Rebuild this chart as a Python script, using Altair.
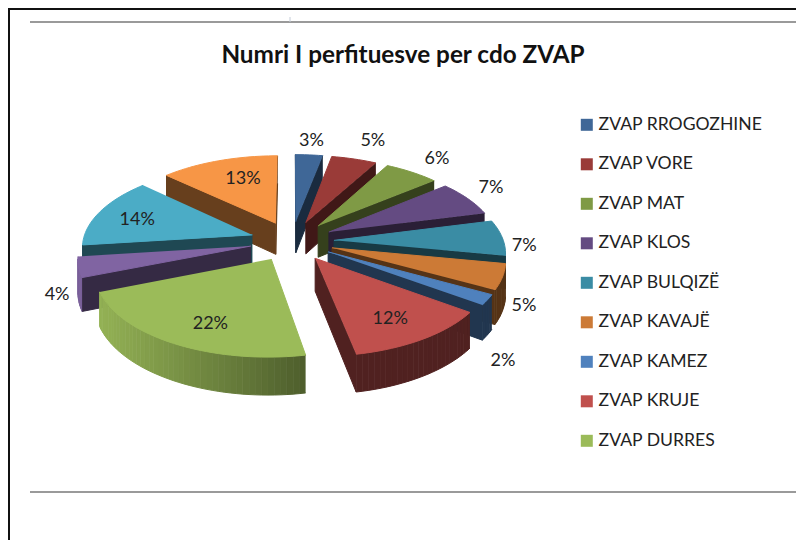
import math
import altair as alt
import pandas as pd

title_text = "Numri I perfituesve per cdo ZVAP"
legend_names = ["ZVAP RROGOZHINE", "ZVAP  VORE", "ZVAP MAT", "ZVAP KLOS", "ZVAP BULQIZË",
                "ZVAP KAVAJË", "ZVAP KAMEZ", "ZVAP KRUJE", "ZVAP DURRES"]
shares = [3, 5, 6, 7, 7, 5, 2, 12, 22, 4, 14, 13]
top_colors = ["#3F6797", "#9A3B38", "#7F9A45", "#644B82", "#3A8CA4", "#CC7A36",
              "#4F81BD", "#C0504D", "#9BBB59", "#8064A2", "#4BACC6", "#F79646"]
label_radius = [1.2, 1.45, 1.3, 1.18, 1.13, 1.12, 1.09, 0.72, 0.65, 1.12, 0.75, 0.55]
label_drop = [-2, 6, 1, -5, 8, 25, 56, 5, 13, 25, 3, -8]

# projection of the exploded tilted pie
CX, CY, RX, RY, P, DEPTH, EXPLODE = 292, 241, 169.5, 80.4, 0.129, 32, 0.248


def project(gx, gy):
    w = 1 + P * gy
    return CX + RX * gx / w, CY - RY * gy / w, DEPTH / w


def shade(hex_color, f):
    r, g, b = (int(hex_color[i:i + 2], 16) for i in (1, 3, 5))
    return "#%02x%02x%02x" % (int(r * f), int(g * f), int(b * f))


total = sum(shares)
cum = 0
slices = []
for share, col, lr, ld in zip(shares, top_colors, label_radius, label_drop):
    a0 = math.radians(cum / total * 360)
    cum += share
    a1 = math.radians(cum / total * 360)
    am = (a0 + a1) / 2
    ox, oy = EXPLODE * math.sin(am), EXPLODE * math.cos(am)
    n = max(4, share * 2)
    ring = [project(ox, oy)]
    for k in range(n + 1):
        t = a0 + (a1 - a0) * k / n
        ring.append(project(ox + math.sin(t), oy + math.cos(t)))
    lx, ly, _ = project(ox + lr * math.sin(am), oy + lr * math.cos(am))
    slices.append(dict(ring=ring, col=col, key=oy + 0.6 * math.cos(am),
                       lx=lx, ly=ly + ld, txt=f"{share}%"))

rows = []
pid = 0


def add_poly(points, fill):
    global pid
    for s, (x, y) in enumerate(points):
        rows.append(dict(poly=pid, step=s, x=x, y=y, fill=fill))
    pid += 1


for sl in sorted(slices, key=lambda d: -d["key"]):
    ring = sl["ring"]
    m = len(ring)
    for i in range(m):
        a, b = ring[i], ring[(i + 1) % m]
        if b[0] >= a[0]:
            continue
        radial = i == 0 or i == m - 1
        mid = (a[0] + b[0]) / 2
        f = 0.42 if radial else min(0.95, max(0.42, 0.95 - (mid - 101) / 207 * 0.45))
        add_poly([(a[0], a[1]), (b[0], b[1]), (b[0], b[1] + b[2]), (a[0], a[1] + a[2])],
                 shade(sl["col"], f))
    add_poly([(p[0], p[1]) for p in ring], sl["col"])

faces = pd.DataFrame(rows)
labels = pd.DataFrame([dict(x=s["lx"], y=s["ly"], txt=s["txt"]) for s in slices])

xs = alt.Scale(domain=[8, 796], range=[0, 788])
ys = alt.Scale(domain=[8, 540], range=[0, 532])
X = alt.X("x:Q", scale=xs, axis=None)
Y = alt.Y("y:Q", scale=ys, axis=None)

pie = alt.Chart(faces).mark_line(filled=True, strokeWidth=1, interpolate="linear").encode(
    x=X, y=Y, detail="poly:N", order="step:Q",
    fill=alt.Fill("fill:N", scale=None, legend=None),
    stroke=alt.Stroke("fill:N", scale=None, legend=None),
)

pct = alt.Chart(labels).mark_text(font="Lato", fontSize=18, color="#222222").encode(x=X, y=Y, text="txt:N")

head = alt.Chart(pd.DataFrame([dict(x=403, y=56, txt=title_text)])).mark_text(
    font="Lato", fontSize=24.3, fontWeight="bold", color="#111111").encode(x=X, y=Y, text="txt:N")

key = alt.Chart(pd.DataFrame(dict(name=legend_names, x=[600] * 9, y=[300] * 9))).mark_square(opacity=0).encode(
    x=X, y=Y,
    color=alt.Color("name:N", scale=alt.Scale(domain=legend_names, range=top_colors[:9]),
                    sort=legend_names,
                    legend=alt.Legend(title=None, orient="none", legendX=570, legendY=108,
                                      symbolType="square", symbolSize=144, symbolOpacity=1,
                                      symbolStrokeWidth=0, labelFont="Lato", labelFontSize=17.6,
                                      labelColor="#222222", labelOffset=3, rowPadding=20.5,
                                      labelLimit=220)),
)

hlines = pd.DataFrame(dict(x=[30, 30], x2=[796, 796], y=[22, 492]))
grey = alt.Chart(hlines).mark_rule(color="#9a9a9a", strokeWidth=2).encode(
    x=X, x2="x2:Q", y=Y)
frame_top = alt.Chart(pd.DataFrame(dict(x=[8], x2=[796], y=[9]))).mark_rule(color="#111111", strokeWidth=2).encode(
    x=X, x2="x2:Q", y=Y)
frame_left = alt.Chart(pd.DataFrame(dict(x=[9], y=[8], y2=[540]))).mark_rule(color="#111111", strokeWidth=2).encode(
    x=X, y=Y, y2="y2:Q")
tick = alt.Chart(pd.DataFrame(dict(x=[290], y=[17], y2=[22]))).mark_rule(color="#c4ccd8", strokeWidth=1).encode(
    x=X, y=Y, y2="y2:Q")

chart = alt.layer(grey, tick, frame_top, frame_left, pie, pct, head, key).resolve_scale(
    fill="independent", stroke="independent", color="independent"
).properties(width=788, height=532, padding=0, autosize="none", background="white"
).configure_view(stroke=None)

chart.save("out.html", embed_options={"renderer": "svg", "actions": False})
